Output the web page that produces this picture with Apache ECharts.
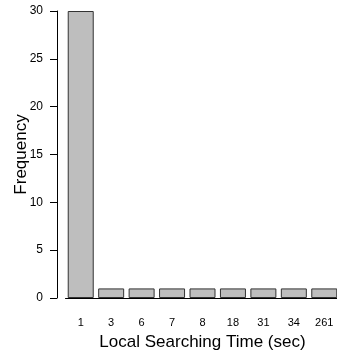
<!DOCTYPE html>
<html>
<head>
<meta charset="utf-8">
<script src="https://cdn.jsdelivr.net/npm/echarts@6/dist/echarts.min.js"></script>
<style>
html,body{margin:0;padding:0;background:#fff;}
#chart{width:337px;height:356px;}
</style>
</head>
<body>
<div id="chart"></div>
<script>
var categories = ['1','3','6','7','8','18','31','34','261'];
var frequency = [30,1,1,1,1,1,1,1,1];
var yTicks = [0,5,10,15,20,25,30];
var xTitle = 'Local Searching Time (sec)';
var yTitle = 'Frequency';

var chart = echarts.init(document.getElementById('chart'), null, {renderer:'canvas'});
var font = 'Liberation Sans, Arial, Helvetica, sans-serif';
chart.setOption({
  animation: false,
  backgroundColor: '#fff',
  grid: {left: 65.5, top: 11, width: 274, bottom: 58, containLabel: false, outerBoundsMode: 'none'},
  xAxis: {
    type: 'category',
    data: categories,
    offset: 3,
    axisLine: {show: true, lineStyle: {color: '#000', width: 1}},
    axisTick: {show: false},
    axisLabel: {color: '#000', fontSize: 11, fontFamily: font, margin: 16},
    name: xTitle,
    nameLocation: 'middle',
    nameGap: 33,
    nameMoveOverlap: false,
    nameTextStyle: {color: '#000', fontSize: 17, fontFamily: font}
  },
  yAxis: {
    type: 'value',
    min: yTicks[0],
    max: yTicks[yTicks.length-1],
    interval: 5,
    offset: 8.5,
    splitLine: {show: false},
    axisLine: {show: true, lineStyle: {color: '#000', width: 1}},
    axisTick: {show: true, length: 7, lineStyle: {color: '#000'}},
    axisLabel: {color: '#000', fontSize: 12, fontFamily: font, margin: 14},
    name: yTitle,
    nameLocation: 'middle',
    nameGap: 27,
    nameMoveOverlap: false,
    nameTextStyle: {color: '#000', fontSize: 17, fontFamily: font}
  },
  series: [{
    type: 'bar',
    data: frequency,
    barWidth: 26,
    itemStyle: {color: '#bebebe', borderColor: '#333', borderWidth: 1}
  }]
});
</script>
</body>
</html>
